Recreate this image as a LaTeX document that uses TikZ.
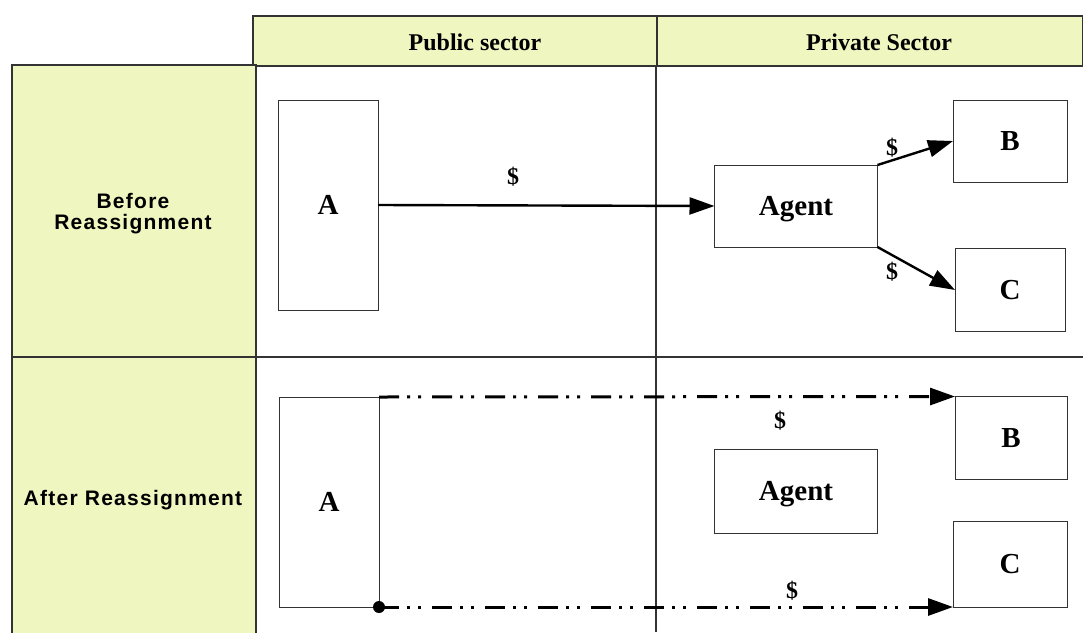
\documentclass[tikz,border=0pt]{standalone}
\usepackage{fontspec}
\setmainfont{Liberation Serif}
\newfontfamily\labelfont[LetterSpace=6]{Liberation Sans}
\usetikzlibrary{arrows.meta}
\definecolor{headfill}{HTML}{EFF6C0}
\definecolor{gridline}{HTML}{333333}

\begin{document}
\begin{tikzpicture}[x=1pt,y=-1pt,
  cell/.style={draw=gridline, line width=1.2pt, fill=headfill, outer sep=0pt, inner sep=0pt},
  headtext/.style={font=\fontsize{24}{28}\selectfont\bfseries},
  rowtext/.style={align=center, font=\labelfont\fontsize{21}{21}\selectfont\bfseries},
  box/.style={draw=gridline, line width=1pt, fill=white, outer sep=0pt, inner sep=0pt,
    text depth=0pt, font=\fontsize{29}{32}\selectfont\bfseries},
  money/.style={font=\fontsize{24}{28}\selectfont\bfseries},
  flow/.style={line width=2.4pt, -{Triangle[length=25pt,width=17pt]}},
  transfer/.style={line width=3pt, dash pattern=on 20pt off 8pt on 3pt off 8pt on 3pt off 11pt,
    -{Triangle[length=25pt,width=17pt]}}]
\useasboundingbox (0,0) rectangle (1083,632);
% header and row cells
\node[cell, minimum width=404, minimum height=50] (pubhead) at (455,41) {};
\node[cell, minimum width=426, minimum height=50] (privhead) at (870,41) {};
\node[headtext] (pubtext) at (475,42) {Public sector};
\node[headtext] (privtext) at (879,42) {Private Sector};
\node[cell, minimum width=244, minimum height=292] (before) at (134,211) {};
\node[cell, minimum width=244, minimum height=284] (after) at (134,499) {};
\node[rowtext] (beforetext) at (133,214) {Before\\Reassignment};
\node[rowtext] (aftertext) at (133,500) {After Reassignment};
% grid lines
\draw[gridline, line width=1.2pt] (before.north east) -- (256,632);
\draw[gridline, line width=1.2pt] (before.south east) -- (1083,357);
\draw[gridline, line width=1.2pt] (656,66) -- (656,632);
% before reassignment
\node[box, minimum width=100, minimum height=210] (a1) at (328,205) {A};
\node[box, minimum width=163, minimum height=82] (agent1) at (796,206) {Agent};
\node[box, minimum width=114, minimum height=82] (b1) at (1010,141) {B};
\node[box, minimum width=110, minimum height=83] (c1) at (1010,290) {C};
\draw[flow] (a1.east) -- (agent1.west);
\draw[flow] (agent1.north east) -- (b1.west);
\draw[flow] (agent1.south east) -- (c1.west);
\node[money] (m1) at (513,177) {\$};
\node[money] (m2) at (892,148) {\$};
\node[money] (m3) at (892,272) {\$};
% after reassignment
\node[box, minimum width=100, minimum height=210] (a2) at (329,502) {A};
\node[box, minimum width=163, minimum height=84] (agent2) at (796,491) {Agent};
\node[box, minimum width=112, minimum height=83] (b2) at (1011,438) {B};
\node[box, minimum width=114, minimum height=86] (c2) at (1010,564) {C};
\draw[transfer] (a2.north east) -- (b2.north west);
\draw[transfer] (a2.south east) -- (c2.south west);
\fill (a2.south east) circle (6pt);
\node[money] (m4) at (780,421) {\$};
\node[money] (m5) at (792,591) {\$};
\end{tikzpicture}
\end{document}
